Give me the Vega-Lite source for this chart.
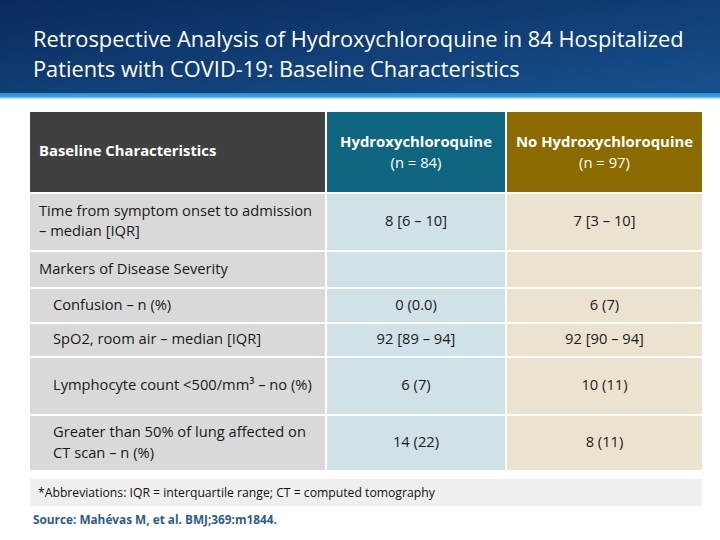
{
  "$schema": "https://vega.github.io/schema/vega-lite/v6.json",
  "padding": 0,
  "background": "white",
  "config": {"view": {"stroke": null}, "font": "Open Sans", "text": {"font": "Open Sans"}},
  "datasets": {
    "cells": [
      {"r": 0, "c": 1, "g": "h1", "t": "Baseline Characteristics", "t2": ""},
      {"r": 0, "c": 2, "g": "h2", "t": "Hydroxychloroquine", "t2": "(n = 84)"},
      {"r": 0, "c": 3, "g": "h3", "t": "No Hydroxychloroquine", "t2": "(n = 97)"},
      {"r": 1, "c": 1, "g": "b1", "t": "Time from symptom onset to admission\n– median [IQR]"},
      {"r": 1, "c": 2, "g": "b2", "t": "8 [6 – 10]"},
      {"r": 1, "c": 3, "g": "b3", "t": "7 [3 – 10]"},
      {"r": 2, "c": 1, "g": "b1", "t": "Markers of Disease Severity"},
      {"r": 2, "c": 2, "g": "b2", "t": ""},
      {"r": 2, "c": 3, "g": "b3", "t": ""},
      {"r": 3, "c": 1, "g": "b1", "t": "Confusion – n (%)"},
      {"r": 3, "c": 2, "g": "b2", "t": "0 (0.0)"},
      {"r": 3, "c": 3, "g": "b3", "t": "6 (7)"},
      {"r": 4, "c": 1, "g": "b1", "t": "SpO2, room air – median [IQR]"},
      {"r": 4, "c": 2, "g": "b2", "t": "92 [89 – 94]"},
      {"r": 4, "c": 3, "g": "b3", "t": "92 [90 – 94]"},
      {"r": 5, "c": 1, "g": "b1", "t": "Lymphocyte count <500/mm³ – no (%)"},
      {"r": 5, "c": 2, "g": "b2", "t": "6 (7)"},
      {"r": 5, "c": 3, "g": "b3", "t": "10 (11)"},
      {"r": 6, "c": 1, "g": "b1", "t": "Greater than 50% of lung affected on\nCT scan – n (%)"},
      {"r": 6, "c": 2, "g": "b2", "t": "14 (22)"},
      {"r": 6, "c": 3, "g": "b3", "t": "8 (11)"}
    ],
    "notes": [
      {"kind": "foot", "t": "*Abbreviations: IQR = interquartile range; CT = computed tomography"},
      {"kind": "source", "t": "Source: Mahévas M, et al. BMJ;369:m1844."}
    ]
  },
  "vconcat": [
    {
      "vconcat": [
        {
          "width": 720, "height": 93,
          "data": {"values": [{"part": "banner"}]},
          "title": {
            "text": ["Retrospective Analysis of Hydroxychloroquine in 84 Hospitalized", "Patients with COVID-19: Baseline Characteristics"],
            "anchor": "start", "frame": "group", "orient": "top", "offset": -99, "dx": 33,
            "baseline": "alphabetic", "lineHeight": 30,
            "color": "white", "fontSize": 21.8, "fontWeight": "normal", "font": "Open Sans"
          },
          "mark": {"type": "rect", "color": {"gradient": "linear", "x1": 0, "y1": 0, "x2": 1, "y2": 1, "stops": [{"offset": 0, "color": "#0a2a5c"}, {"offset": 1, "color": "#17518e"}]}},
          "encoding": {}
        },
        {
          "width": 720, "height": 6,
          "data": {"values": [{"part": "stripe"}]},
          "mark": {"type": "rect", "color": {"gradient": "linear", "x1": 0, "y1": 0, "x2": 0, "y2": 1, "stops": [{"offset": 0, "color": "#2590d4"}, {"offset": 0.6, "color": "#3a9ee0"}, {"offset": 1, "color": "#e6f3fb"}]}},
          "encoding": {}
        }
      ],
      "spacing": 0
    },
    {
      "hconcat": [
        {
          "width": 1, "height": 1,
          "data": {"values": [{"part": "spacer"}]},
          "mark": {"type": "rect", "opacity": 0},
          "encoding": {}
        },
        {
          "vconcat": [
            {
              "vconcat": [
                {"hconcat": [
                  {"width": 295, "height": 80, "data": {"name": "cells"}, "transform": [{"filter": "datum.r == 0 && datum.c == 1"}],
                   "layer": [
                     {"mark": "rect", "encoding": {"color": {"field": "g", "type": "nominal", "scale": {"domain": ["h1","h2","h3","b1","b2","b3"], "range": ["#404040","#0f6680","#8b6a00","#d9d9d9","#d1e1e8","#ebe3d0"]}, "legend": null}}},
                     {"mark": {"type": "text", "align": "left", "dx": 9, "fontSize": 14.8, "fontWeight": "bold", "color": "white"}, "encoding": {"text": {"field": "t"}, "x": {"datum": 0, "type": "quantitative", "scale": {"domain": [0, 1]}, "axis": null}}}
                   ]},
                  {"width": 178, "height": 80, "data": {"name": "cells"}, "transform": [{"filter": "datum.r == 0 && datum.c == 2"}],
                   "layer": [
                     {"mark": "rect", "encoding": {"color": {"field": "g", "type": "nominal", "scale": {"domain": ["h1","h2","h3","b1","b2","b3"], "range": ["#404040","#0f6680","#8b6a00","#d9d9d9","#d1e1e8","#ebe3d0"]}, "legend": null}}},
                     {"mark": {"type": "text", "dy": -9, "fontSize": 14.9, "fontWeight": "bold", "color": "white"}, "encoding": {"text": {"field": "t"}}},
                     {"mark": {"type": "text", "dy": 12, "fontSize": 14.8, "color": "white"}, "encoding": {"text": {"field": "t2"}}}
                   ]},
                  {"width": 195, "height": 80, "data": {"name": "cells"}, "transform": [{"filter": "datum.r == 0 && datum.c == 3"}],
                   "layer": [
                     {"mark": "rect", "encoding": {"color": {"field": "g", "type": "nominal", "scale": {"domain": ["h1","h2","h3","b1","b2","b3"], "range": ["#404040","#0f6680","#8b6a00","#d9d9d9","#d1e1e8","#ebe3d0"]}, "legend": null}}},
                     {"mark": {"type": "text", "dy": -9, "fontSize": 14.9, "fontWeight": "bold", "color": "white"}, "encoding": {"text": {"field": "t"}}},
                     {"mark": {"type": "text", "dy": 12, "fontSize": 14.8, "color": "white"}, "encoding": {"text": {"field": "t2"}}}
                   ]}
                ], "spacing": 2},
                {"hconcat": [
                  {"width": 295, "height": 56, "data": {"name": "cells"}, "transform": [{"filter": "datum.r == 1 && datum.c == 1"}],
                   "layer": [
                     {"mark": "rect", "encoding": {"color": {"field": "g", "type": "nominal", "scale": {"domain": ["h1","h2","h3","b1","b2","b3"], "range": ["#404040","#0f6680","#8b6a00","#d9d9d9","#d1e1e8","#ebe3d0"]}, "legend": null}}},
                     {"mark": {"type": "text", "align": "left", "dx": 9, "dy": -10, "fontSize": 14.7, "lineBreak": "\n", "lineHeight": 20, "color": "#1a1a1a"}, "encoding": {"text": {"field": "t"}, "x": {"datum": 0, "type": "quantitative", "scale": {"domain": [0, 1]}, "axis": null}}}
                   ]},
                  {"width": 178, "height": 56, "data": {"name": "cells"}, "transform": [{"filter": "datum.r == 1 && datum.c == 2"}],
                   "layer": [
                     {"mark": "rect", "encoding": {"color": {"field": "g", "type": "nominal", "scale": {"domain": ["h1","h2","h3","b1","b2","b3"], "range": ["#404040","#0f6680","#8b6a00","#d9d9d9","#d1e1e8","#ebe3d0"]}, "legend": null}}},
                     {"mark": {"type": "text", "fontSize": 14.7, "color": "#1a1a1a"}, "encoding": {"text": {"field": "t"}}}
                   ]},
                  {"width": 195, "height": 56, "data": {"name": "cells"}, "transform": [{"filter": "datum.r == 1 && datum.c == 3"}],
                   "layer": [
                     {"mark": "rect", "encoding": {"color": {"field": "g", "type": "nominal", "scale": {"domain": ["h1","h2","h3","b1","b2","b3"], "range": ["#404040","#0f6680","#8b6a00","#d9d9d9","#d1e1e8","#ebe3d0"]}, "legend": null}}},
                     {"mark": {"type": "text", "fontSize": 14.7, "color": "#1a1a1a"}, "encoding": {"text": {"field": "t"}}}
                   ]}
                ], "spacing": 2},
                {"hconcat": [
                  {"width": 295, "height": 35, "data": {"name": "cells"}, "transform": [{"filter": "datum.r == 2 && datum.c == 1"}],
                   "layer": [
                     {"mark": "rect", "encoding": {"color": {"field": "g", "type": "nominal", "scale": {"domain": ["h1","h2","h3","b1","b2","b3"], "range": ["#404040","#0f6680","#8b6a00","#d9d9d9","#d1e1e8","#ebe3d0"]}, "legend": null}}},
                     {"mark": {"type": "text", "align": "left", "dx": 9, "fontSize": 14.7, "color": "#1a1a1a"}, "encoding": {"text": {"field": "t"}, "x": {"datum": 0, "type": "quantitative", "scale": {"domain": [0, 1]}, "axis": null}}}
                   ]},
                  {"width": 178, "height": 35, "data": {"name": "cells"}, "transform": [{"filter": "datum.r == 2 && datum.c == 2"}],
                   "layer": [
                     {"mark": "rect", "encoding": {"color": {"field": "g", "type": "nominal", "scale": {"domain": ["h1","h2","h3","b1","b2","b3"], "range": ["#404040","#0f6680","#8b6a00","#d9d9d9","#d1e1e8","#ebe3d0"]}, "legend": null}}},
                     {"mark": {"type": "text", "fontSize": 14.7, "color": "#1a1a1a"}, "encoding": {"text": {"field": "t"}}}
                   ]},
                  {"width": 195, "height": 35, "data": {"name": "cells"}, "transform": [{"filter": "datum.r == 2 && datum.c == 3"}],
                   "layer": [
                     {"mark": "rect", "encoding": {"color": {"field": "g", "type": "nominal", "scale": {"domain": ["h1","h2","h3","b1","b2","b3"], "range": ["#404040","#0f6680","#8b6a00","#d9d9d9","#d1e1e8","#ebe3d0"]}, "legend": null}}},
                     {"mark": {"type": "text", "fontSize": 14.7, "color": "#1a1a1a"}, "encoding": {"text": {"field": "t"}}}
                   ]}
                ], "spacing": 2},
                {"hconcat": [
                  {"width": 295, "height": 33, "data": {"name": "cells"}, "transform": [{"filter": "datum.r == 3 && datum.c == 1"}],
                   "layer": [
                     {"mark": "rect", "encoding": {"color": {"field": "g", "type": "nominal", "scale": {"domain": ["h1","h2","h3","b1","b2","b3"], "range": ["#404040","#0f6680","#8b6a00","#d9d9d9","#d1e1e8","#ebe3d0"]}, "legend": null}}},
                     {"mark": {"type": "text", "align": "left", "dx": 23, "fontSize": 14.7, "color": "#1a1a1a"}, "encoding": {"text": {"field": "t"}, "x": {"datum": 0, "type": "quantitative", "scale": {"domain": [0, 1]}, "axis": null}}}
                   ]},
                  {"width": 178, "height": 33, "data": {"name": "cells"}, "transform": [{"filter": "datum.r == 3 && datum.c == 2"}],
                   "layer": [
                     {"mark": "rect", "encoding": {"color": {"field": "g", "type": "nominal", "scale": {"domain": ["h1","h2","h3","b1","b2","b3"], "range": ["#404040","#0f6680","#8b6a00","#d9d9d9","#d1e1e8","#ebe3d0"]}, "legend": null}}},
                     {"mark": {"type": "text", "fontSize": 14.7, "color": "#1a1a1a"}, "encoding": {"text": {"field": "t"}}}
                   ]},
                  {"width": 195, "height": 33, "data": {"name": "cells"}, "transform": [{"filter": "datum.r == 3 && datum.c == 3"}],
                   "layer": [
                     {"mark": "rect", "encoding": {"color": {"field": "g", "type": "nominal", "scale": {"domain": ["h1","h2","h3","b1","b2","b3"], "range": ["#404040","#0f6680","#8b6a00","#d9d9d9","#d1e1e8","#ebe3d0"]}, "legend": null}}},
                     {"mark": {"type": "text", "fontSize": 14.7, "color": "#1a1a1a"}, "encoding": {"text": {"field": "t"}}}
                   ]}
                ], "spacing": 2},
                {"hconcat": [
                  {"width": 295, "height": 32, "data": {"name": "cells"}, "transform": [{"filter": "datum.r == 4 && datum.c == 1"}],
                   "layer": [
                     {"mark": "rect", "encoding": {"color": {"field": "g", "type": "nominal", "scale": {"domain": ["h1","h2","h3","b1","b2","b3"], "range": ["#404040","#0f6680","#8b6a00","#d9d9d9","#d1e1e8","#ebe3d0"]}, "legend": null}}},
                     {"mark": {"type": "text", "align": "left", "dx": 23, "fontSize": 14.7, "color": "#1a1a1a"}, "encoding": {"text": {"field": "t"}, "x": {"datum": 0, "type": "quantitative", "scale": {"domain": [0, 1]}, "axis": null}}}
                   ]},
                  {"width": 178, "height": 32, "data": {"name": "cells"}, "transform": [{"filter": "datum.r == 4 && datum.c == 2"}],
                   "layer": [
                     {"mark": "rect", "encoding": {"color": {"field": "g", "type": "nominal", "scale": {"domain": ["h1","h2","h3","b1","b2","b3"], "range": ["#404040","#0f6680","#8b6a00","#d9d9d9","#d1e1e8","#ebe3d0"]}, "legend": null}}},
                     {"mark": {"type": "text", "fontSize": 14.7, "color": "#1a1a1a"}, "encoding": {"text": {"field": "t"}}}
                   ]},
                  {"width": 195, "height": 32, "data": {"name": "cells"}, "transform": [{"filter": "datum.r == 4 && datum.c == 3"}],
                   "layer": [
                     {"mark": "rect", "encoding": {"color": {"field": "g", "type": "nominal", "scale": {"domain": ["h1","h2","h3","b1","b2","b3"], "range": ["#404040","#0f6680","#8b6a00","#d9d9d9","#d1e1e8","#ebe3d0"]}, "legend": null}}},
                     {"mark": {"type": "text", "fontSize": 14.7, "color": "#1a1a1a"}, "encoding": {"text": {"field": "t"}}}
                   ]}
                ], "spacing": 2},
                {"hconcat": [
                  {"width": 295, "height": 56, "data": {"name": "cells"}, "transform": [{"filter": "datum.r == 5 && datum.c == 1"}],
                   "layer": [
                     {"mark": "rect", "encoding": {"color": {"field": "g", "type": "nominal", "scale": {"domain": ["h1","h2","h3","b1","b2","b3"], "range": ["#404040","#0f6680","#8b6a00","#d9d9d9","#d1e1e8","#ebe3d0"]}, "legend": null}}},
                     {"mark": {"type": "text", "align": "left", "dx": 23, "fontSize": 14.7, "color": "#1a1a1a"}, "encoding": {"text": {"field": "t"}, "x": {"datum": 0, "type": "quantitative", "scale": {"domain": [0, 1]}, "axis": null}}}
                   ]},
                  {"width": 178, "height": 56, "data": {"name": "cells"}, "transform": [{"filter": "datum.r == 5 && datum.c == 2"}],
                   "layer": [
                     {"mark": "rect", "encoding": {"color": {"field": "g", "type": "nominal", "scale": {"domain": ["h1","h2","h3","b1","b2","b3"], "range": ["#404040","#0f6680","#8b6a00","#d9d9d9","#d1e1e8","#ebe3d0"]}, "legend": null}}},
                     {"mark": {"type": "text", "fontSize": 14.7, "color": "#1a1a1a"}, "encoding": {"text": {"field": "t"}}}
                   ]},
                  {"width": 195, "height": 56, "data": {"name": "cells"}, "transform": [{"filter": "datum.r == 5 && datum.c == 3"}],
                   "layer": [
                     {"mark": "rect", "encoding": {"color": {"field": "g", "type": "nominal", "scale": {"domain": ["h1","h2","h3","b1","b2","b3"], "range": ["#404040","#0f6680","#8b6a00","#d9d9d9","#d1e1e8","#ebe3d0"]}, "legend": null}}},
                     {"mark": {"type": "text", "fontSize": 14.7, "color": "#1a1a1a"}, "encoding": {"text": {"field": "t"}}}
                   ]}
                ], "spacing": 2},
                {"hconcat": [
                  {"width": 295, "height": 54, "data": {"name": "cells"}, "transform": [{"filter": "datum.r == 6 && datum.c == 1"}],
                   "layer": [
                     {"mark": "rect", "encoding": {"color": {"field": "g", "type": "nominal", "scale": {"domain": ["h1","h2","h3","b1","b2","b3"], "range": ["#404040","#0f6680","#8b6a00","#d9d9d9","#d1e1e8","#ebe3d0"]}, "legend": null}}},
                     {"mark": {"type": "text", "align": "left", "dx": 23, "dy": -10, "fontSize": 14.7, "lineBreak": "\n", "lineHeight": 21, "color": "#1a1a1a"}, "encoding": {"text": {"field": "t"}, "x": {"datum": 0, "type": "quantitative", "scale": {"domain": [0, 1]}, "axis": null}}}
                   ]},
                  {"width": 178, "height": 54, "data": {"name": "cells"}, "transform": [{"filter": "datum.r == 6 && datum.c == 2"}],
                   "layer": [
                     {"mark": "rect", "encoding": {"color": {"field": "g", "type": "nominal", "scale": {"domain": ["h1","h2","h3","b1","b2","b3"], "range": ["#404040","#0f6680","#8b6a00","#d9d9d9","#d1e1e8","#ebe3d0"]}, "legend": null}}},
                     {"mark": {"type": "text", "fontSize": 14.7, "color": "#1a1a1a"}, "encoding": {"text": {"field": "t"}}}
                   ]},
                  {"width": 195, "height": 54, "data": {"name": "cells"}, "transform": [{"filter": "datum.r == 6 && datum.c == 3"}],
                   "layer": [
                     {"mark": "rect", "encoding": {"color": {"field": "g", "type": "nominal", "scale": {"domain": ["h1","h2","h3","b1","b2","b3"], "range": ["#404040","#0f6680","#8b6a00","#d9d9d9","#d1e1e8","#ebe3d0"]}, "legend": null}}},
                     {"mark": {"type": "text", "fontSize": 14.7, "color": "#1a1a1a"}, "encoding": {"text": {"field": "t"}}}
                   ]}
                ], "spacing": 2}
              ],
              "spacing": 2
            },
            {
              "vconcat": [
                {"width": 672, "height": 27, "data": {"name": "notes"}, "transform": [{"filter": "datum.kind == 'foot'"}],
                 "layer": [
                   {"mark": {"type": "rect", "color": "#efefef"}, "encoding": {}},
                   {"mark": {"type": "text", "align": "left", "dx": 8, "fontSize": 12.2, "color": "#111111"}, "encoding": {"text": {"field": "t"}, "x": {"datum": 0, "type": "quantitative", "scale": {"domain": [0, 1]}, "axis": null}}}
                 ]},
                {"width": 672, "height": 20, "data": {"name": "notes"}, "transform": [{"filter": "datum.kind == 'source'"}],
                 "mark": {"type": "text", "align": "left", "dx": 3, "dy": -3, "fontSize": 11.8, "fontWeight": "bold", "color": "#2b5d8c"},
                 "encoding": {"text": {"field": "t"}, "x": {"datum": 0, "type": "quantitative", "scale": {"domain": [0, 1]}, "axis": null}}}
              ],
              "spacing": 7
            }
          ],
          "spacing": 9
        }
      ],
      "spacing": 29
    }
  ],
  "spacing": 13
}
